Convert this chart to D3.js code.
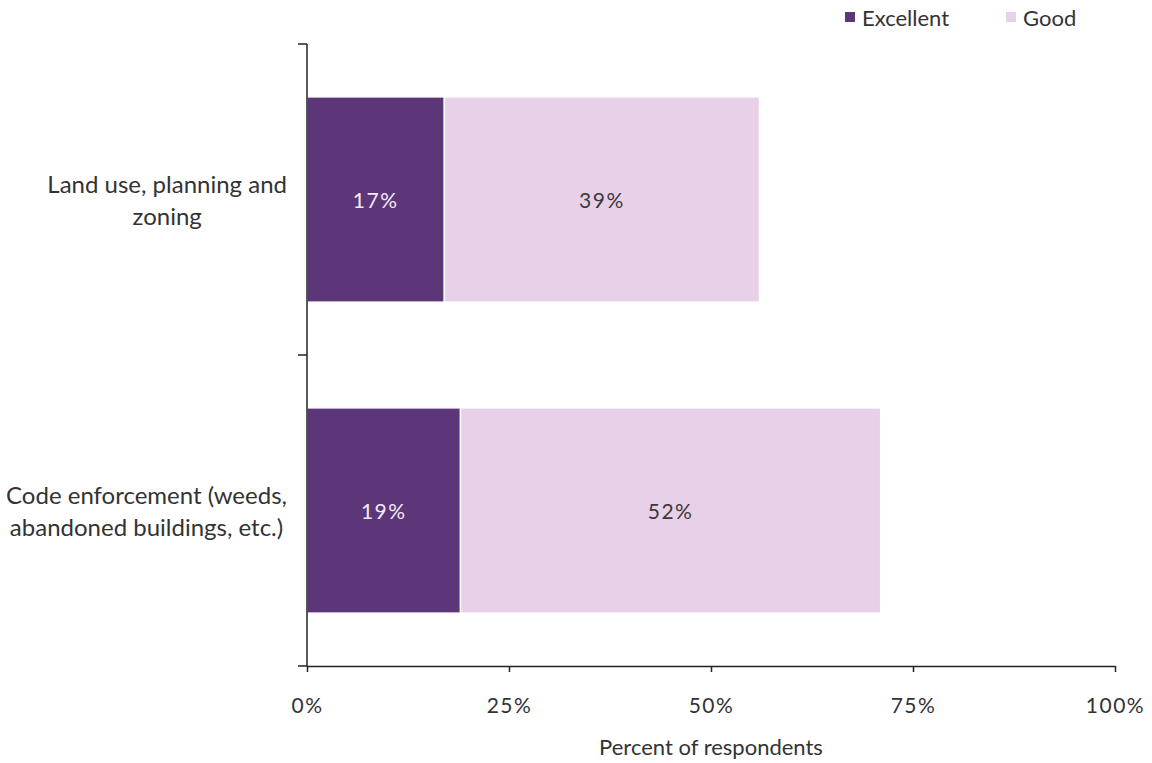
<!DOCTYPE html>
<html>
<head>
<meta charset="utf-8">
<script src="https://cdn.jsdelivr.net/npm/d3@7/dist/d3.min.js"></script>
<style>
  html, body { margin: 0; padding: 0; background: #fff; }
  svg { display: block; }
  text { font-family: Lato, "Open Sans", sans-serif; fill: #333; }
</style>
</head>
<body>
<svg id="chart" width="1152" height="763"></svg>
<script>
// Service ratings, percent of respondents
const categories = [
  ["Land use, planning and", "zoning"],
  ["Code enforcement (weeds,", "abandoned buildings, etc.)"]
];
const seriesNames = ["Excellent", "Good"];
const excellent = [17, 19];
const good = [39, 52];
const xTicks = [0, 25, 50, 75, 100];
const colors = ["#5d3679", "#e8d0e8"];
const labelColors = ["#f3eaf5", "#3a3a3a"];

const svg = d3.select("#chart");
const margin = { left: 307, right: 37, top: 44, bottom: 97 };
const W = 1152, H = 763;

const x = d3.scaleLinear().domain([0, 100]).range([margin.left, W - margin.right]);
const y = d3.scaleBand()
  .domain(d3.range(categories.length))
  .range([margin.top, H - margin.bottom])
  .paddingInner(0.34)
  .paddingOuter(0.17);

// Stack the two series per category
const rows = categories.map((c, i) => ({ i, Excellent: excellent[i], Good: good[i] }));
const stacked = d3.stack().keys(seriesNames)(rows);

const g = svg.append("g");
stacked.forEach((layer, si) => {
  g.selectAll(null).data(layer).enter().append("rect")
    .attr("x", d => x(d[0]))
    .attr("y", (d, i) => y(i))
    .attr("width", d => x(d[1]) - x(d[0]))
    .attr("height", y.bandwidth())
    .attr("fill", colors[si])
    .attr("stroke", "#fff")
    .attr("stroke-width", 1.5);

  g.selectAll(null).data(layer).enter().append("text")
    .attr("x", d => (x(d[0]) + x(d[1])) / 2)
    .attr("y", (d, i) => y(i) + y.bandwidth() / 2)
    .attr("text-anchor", "middle")
    .attr("dominant-baseline", "central")
    .style("font-size", "21px")
    .style("letter-spacing", "1.5px")
    .style("fill", labelColors[si])
    .text(d => (d[1] - d[0]) + "%");
});

// X axis
const xAxis = svg.append("g")
  .attr("transform", `translate(0,${H - margin.bottom})`)
  .call(d3.axisBottom(x).tickValues(xTicks).tickSize(6).tickSizeOuter(0).tickPadding(26).tickFormat(d => d + "%"));
xAxis.select(".domain").attr("stroke", "#222").attr("stroke-width", 1.5);
xAxis.selectAll(".tick line").attr("stroke", "#222").attr("stroke-width", 1.5);
xAxis.selectAll(".tick text")
  .style("font-family", "Lato, 'Open Sans', sans-serif")
  .style("font-size", "21px")
  .style("letter-spacing", "1.5px")
  .style("fill", "#333");

// Y axis with boundary ticks between categories
const yAxisG = svg.append("g");
yAxisG.append("line")
  .attr("x1", x(0)).attr("x2", x(0))
  .attr("y1", margin.top).attr("y2", H - margin.bottom)
  .attr("stroke", "#222").attr("stroke-width", 1.5);
const boundaries = [0, 1, 2].map(k => margin.top + k * y.step());
yAxisG.selectAll(null).data(boundaries).enter().append("line")
  .attr("x1", x(0) - 9).attr("x2", x(0))
  .attr("y1", d => d).attr("y2", d => d)
  .attr("stroke", "#222").attr("stroke-width", 1.5);

// Category labels: block right-aligned, lines centred within the block
categories.forEach((lines, i) => {
  const cy = y(i) + y.bandwidth() / 2;
  const grp = svg.append("g");
  const texts = lines.map((ln, k) => grp.append("text")
    .attr("y", cy + (k - (lines.length - 1) / 2) * 32)
    .attr("dominant-baseline", "central")
    .attr("text-anchor", "middle")
    .style("font-size", "24px")
    .text(ln));
  const maxW = d3.max(texts, t => t.node().getComputedTextLength());
  const center = 287 - maxW / 2;
  texts.forEach(t => t.attr("x", center));
});

// Axis title
svg.append("text")
  .attr("x", x(50)).attr("y", 746)
  .attr("text-anchor", "middle")
  .attr("dominant-baseline", "central")
  .style("font-size", "22px")
  .text("Percent of respondents");

// Legend
const legendPos = [845, 1006];
seriesNames.forEach((name, i) => {
  svg.append("rect")
    .attr("x", legendPos[i]).attr("y", 12)
    .attr("width", 10).attr("height", 10)
    .attr("fill", colors[i]);
  svg.append("text")
    .attr("x", legendPos[i] + 17).attr("y", 17)
    .attr("dominant-baseline", "central")
    .style("font-size", "22px")
    .text(name);
});
</script>
</body>
</html>
